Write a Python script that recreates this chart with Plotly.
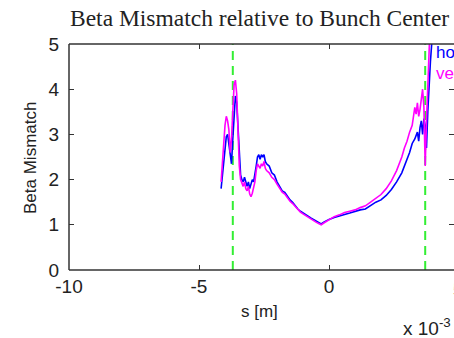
import plotly.graph_objects as go

# s positions (units of 1e-3 m)
s_h = [-4.15, -4.10, -4.05, -4.00, -3.95, -3.90, -3.85, -3.80, -3.75, -3.70, -3.65, -3.60, -3.55, -3.50,
       -3.45, -3.40, -3.35, -3.30, -3.25, -3.20, -3.15, -3.10, -3.05, -3.00, -2.95, -2.90, -2.85, -2.80,
       -2.75, -2.70, -2.65, -2.60, -2.55, -2.50, -2.45, -2.40, -2.30, -2.20, -2.10, -2.00, -1.90, -1.80,
       -1.70, -1.60, -1.50, -1.40, -1.30, -1.20, -1.10, -1.00, -0.90, -0.80, -0.70, -0.60, -0.50, -0.40,
       -0.30, -0.20, -0.10, 0.00, 0.20, 0.40, 0.60, 0.80, 1.00, 1.20, 1.40, 1.60, 1.80, 2.00, 2.20, 2.40,
       2.60, 2.80, 3.00, 3.10, 3.20, 3.30, 3.40, 3.45, 3.50, 3.55, 3.60, 3.65, 3.70, 3.75, 3.80, 3.85,
       3.90, 3.95, 4.00]
beta_h = [1.80, 2.10, 2.50, 2.70, 2.95, 3.00, 2.80, 2.60, 2.35, 2.90, 3.50, 3.85, 3.70, 3.20,
          2.50, 2.10, 2.00, 1.95, 2.05, 1.92, 1.85, 1.95, 1.80, 1.90, 2.00, 1.95, 2.10, 2.30,
          2.50, 2.55, 2.45, 2.55, 2.50, 2.55, 2.40, 2.35, 2.30, 2.15, 2.10, 1.95, 1.85, 1.75,
          1.72, 1.62, 1.55, 1.50, 1.42, 1.35, 1.30, 1.26, 1.22, 1.17, 1.15, 1.12, 1.08, 1.05,
          1.02, 1.06, 1.09, 1.12, 1.16, 1.20, 1.23, 1.26, 1.30, 1.33, 1.35, 1.42, 1.50, 1.55, 1.65, 1.78,
          1.95, 2.15, 2.45, 2.60, 2.80, 2.90, 3.05, 2.85, 3.15, 3.30, 3.00, 3.35, 3.20, 2.70, 3.50, 4.20,
          4.60, 5.00, 5.60]

s_v = [-4.15, -4.10, -4.05, -4.00, -3.95, -3.90, -3.85, -3.80, -3.75, -3.70, -3.65, -3.60, -3.55, -3.50,
       -3.45, -3.40, -3.35, -3.30, -3.25, -3.20, -3.15, -3.10, -3.05, -3.00, -2.95, -2.90, -2.85, -2.80,
       -2.75, -2.70, -2.65, -2.60, -2.55, -2.50, -2.45, -2.40, -2.30, -2.20, -2.10, -2.00, -1.90, -1.80,
       -1.70, -1.60, -1.50, -1.40, -1.30, -1.20, -1.10, -1.00, -0.90, -0.80, -0.70, -0.60, -0.50, -0.40,
       -0.30, -0.20, -0.10, 0.00, 0.20, 0.40, 0.60, 0.80, 1.00, 1.20, 1.40, 1.60, 1.80, 2.00, 2.20, 2.40,
       2.60, 2.80, 2.90, 3.00, 3.10, 3.20, 3.30, 3.35, 3.40, 3.45, 3.50, 3.55, 3.60, 3.65, 3.70, 3.75,
       3.80, 3.85, 3.90]
beta_v = [1.95, 2.40, 2.90, 3.20, 3.40, 3.30, 3.10, 2.60, 2.90, 3.60, 4.10, 4.20, 3.90, 3.10,
          2.30, 2.00, 1.90, 1.85, 1.95, 1.80, 1.75, 1.85, 1.68, 1.62, 1.70, 1.80, 1.95, 2.20,
          2.35, 2.30, 2.25, 2.35, 2.30, 2.40, 2.25, 2.20, 2.15, 2.05, 2.00, 1.90, 1.80, 1.72,
          1.68, 1.60, 1.52, 1.47, 1.40, 1.33, 1.28, 1.24, 1.20, 1.16, 1.13, 1.10, 1.06, 1.03,
          1.00, 1.04, 1.08, 1.12, 1.18, 1.22, 1.27, 1.30, 1.33, 1.38, 1.42, 1.50, 1.58, 1.67, 1.80, 1.97,
          2.20, 2.50, 2.70, 2.85, 3.05, 3.20, 3.60, 3.45, 3.70, 3.40, 3.55, 3.80, 4.00, 3.60, 2.30, 3.30,
          4.10, 4.80, 5.60]

marker_s = [-3.7, 3.7]
marker_y = [0, 5]

x_ticks = [-10, -5, 0, 5]
y_ticks = [0, 1, 2, 3, 4, 5]

fig = go.Figure()
for xm in marker_s:
    fig.add_trace(go.Scatter(x=[xm, xm], y=marker_y, mode="lines",
                             line=dict(color="#33ee33", width=2, dash="9px,6px"),
                             showlegend=False, hoverinfo="skip"))
fig.add_trace(go.Scatter(x=s_h, y=beta_h, mode="lines", name="horizontal",
                         line=dict(color="#0000ff", width=1.6), showlegend=False))
fig.add_trace(go.Scatter(x=s_v, y=beta_v, mode="lines", name="vertical",
                         line=dict(color="#ff00ff", width=1.6), showlegend=False))

L, T, B = 69, 44, 270
W, H = 454, 338

def px(x):
    return (x - L) / (W - L)

def py(y):
    return (B - y) / (B - T)

tickfont = dict(family="Liberation Sans, Arial, sans-serif", size=19, color="#222")
fig.update_layout(
    width=W, height=H,
    margin=dict(l=L, r=0, t=T, b=H - B),
    paper_bgcolor="white", plot_bgcolor="white",
    xaxis=dict(range=[-10, -10 + 15 * (W - L) / 390], tickvals=x_ticks, ticktext=[str(v) for v in x_ticks],
               ticks="inside", ticklen=5, tickcolor="#333", mirror="ticks", showline=False,
               showgrid=False, zeroline=False, tickfont=tickfont, ticklabelstandoff=3),
    yaxis=dict(range=[0, 5], tickvals=y_ticks, ticks="inside", ticklen=5, tickcolor="#333",
               mirror="ticks", showline=False, showgrid=False, zeroline=False, tickfont=tickfont,
               ticklabelstandoff=9),
    shapes=[
        dict(type="line", xref="paper", yref="paper", x0=0, x1=0, y0=0, y1=1, line=dict(color="#333", width=1.5)),
        dict(type="line", xref="paper", yref="paper", x0=0, x1=1, y0=0, y1=0, line=dict(color="#333", width=1.5)),
        dict(type="line", xref="paper", yref="paper", x0=0, x1=1, y0=1, y1=1, line=dict(color="#333", width=1.5)),
    ],
    annotations=[
        dict(text="Beta Mismatch relative to Bunch Center", xref="paper", yref="paper",
             x=px(259), y=py(18), xanchor="center", yanchor="middle", showarrow=False,
             font=dict(family="Liberation Serif, Times New Roman, serif", size=23.5, color="#222")),
        dict(text="Beta Mismatch", xref="paper", yref="paper", x=px(30), y=py(158), textangle=-90,
             xanchor="center", yanchor="middle", showarrow=False,
             font=dict(family="Liberation Sans, Arial, sans-serif", size=17, color="#222")),
        dict(text="s [m]", xref="paper", yref="paper", x=px(259), y=py(311),
             xanchor="center", yanchor="middle", showarrow=False,
             font=dict(family="Liberation Sans, Arial, sans-serif", size=17, color="#222")),
        dict(text="5", xref="paper", yref="paper", x=px(459), y=py(289),
             xanchor="center", yanchor="middle", showarrow=False,
             font=tickfont),
        dict(text="x 10<sup>-3</sup>", xref="paper", yref="paper", x=px(401), y=py(327),
             xanchor="left", yanchor="middle", showarrow=False,
             font=dict(family="Liberation Sans, Arial, sans-serif", size=19, color="#222")),
        dict(text="horizontal", xref="paper", yref="paper", x=px(434), y=py(52),
             xanchor="left", yanchor="middle", showarrow=False,
             font=dict(family="Liberation Sans, Arial, sans-serif", size=17, color="#0000ff")),
        dict(text="vertical", xref="paper", yref="paper", x=px(434), y=py(73),
             xanchor="left", yanchor="middle", showarrow=False,
             font=dict(family="Liberation Sans, Arial, sans-serif", size=17, color="#ff00ff")),
    ],
)

fig.write_html("out.html")
